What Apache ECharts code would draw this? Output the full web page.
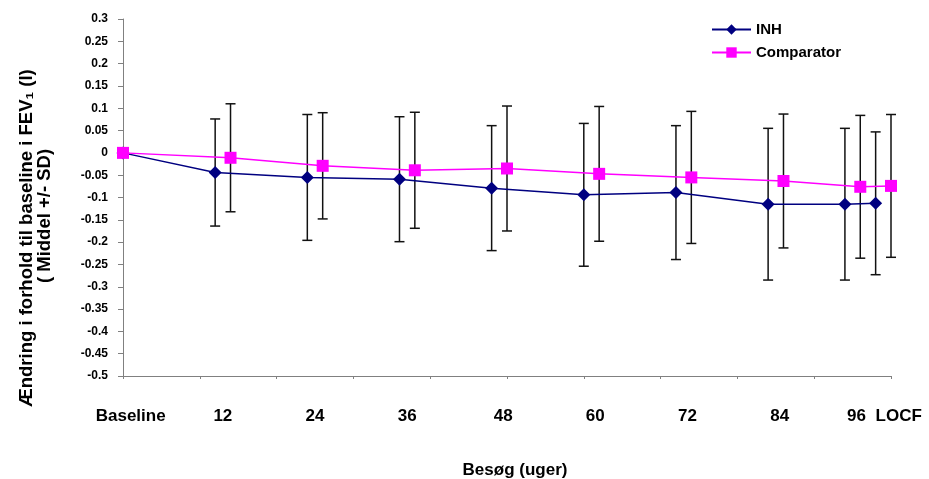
<!DOCTYPE html>
<html>
<head>
<meta charset="utf-8">
<script src="https://cdn.jsdelivr.net/npm/echarts@6/dist/echarts.min.js"></script>
<style>html,body{margin:0;padding:0;background:#fff;}#c{width:929px;height:479px;}</style>
</head>
<body>
<div id="c"></div>
<script>
const categories = ['Baseline', '12', '24', '36', '48', '60', '72', '84', '96', 'LOCF'];
const labelX = [0.1, 1.3, 2.5, 3.7, 4.95, 6.15, 7.35, 8.55, 9.55, 10.1];
const inhX = [0, 1.2, 2.4, 3.6, 4.8, 6.0, 7.2, 8.4, 9.4, 9.8];
const compX = [0, 1.4, 2.6, 3.8, 5.0, 6.2, 7.4, 8.6, 9.6, 10.0];
const inhMean = [0, -0.044, -0.055, -0.059, -0.079, -0.094, -0.089, -0.115, -0.115, -0.113];
const inhSD = [0, 0.120, 0.141, 0.140, 0.140, 0.160, 0.150, 0.170, 0.170, 0.160];
const compMean = [0, -0.011, -0.029, -0.039, -0.035, -0.047, -0.055, -0.063, -0.076, -0.074];
const compSD = [0, 0.121, 0.119, 0.130, 0.140, 0.151, 0.148, 0.150, 0.160, 0.160];
const seriesNames = ['INH', 'Comparator'];
const yTitle1 = 'Ændring i forhold til baseline i FEV₁ (l)';
const yTitle2 = '( Middel +/- SD)';
const xTitle = 'Besøg (uger)';

const FONT = '"Liberation Sans", Arial, sans-serif';
const chart = echarts.init(document.getElementById('c'), null, {renderer: 'canvas'});

function errRender(params, api) {
  const x = api.value(0), m = api.value(1), sd = api.value(2);
  if (!sd) return null;
  const top = api.coord([x, m + sd]);
  const bot = api.coord([x, m - sd]);
  const hw = 5;
  const st = {stroke: '#111', lineWidth: 1.5};
  return {
    type: 'group',
    children: [
      {type: 'line', shape: {x1: top[0], y1: top[1], x2: bot[0], y2: bot[1]}, style: st},
      {type: 'line', shape: {x1: top[0] - hw, y1: top[1], x2: top[0] + hw, y2: top[1]}, style: st},
      {type: 'line', shape: {x1: bot[0] - hw, y1: bot[1], x2: bot[0] + hw, y2: bot[1]}, style: st}
    ]
  };
}

function catLabelRender(params, api) {
  const idx = params.dataIndex;
  const p = api.coord([api.value(0), -0.5]);
  return {
    type: 'text',
    x: p[0], y: p[1] + 32,
    style: {text: categories[idx], font: 'bold 17px ' + FONT, fill: '#000', align: 'center', verticalAlign: 'top'}
  };
}

const option = {
  animation: false,
  backgroundColor: '#fff',
  grid: {left: 123, right: 38, top: 19, bottom: 103},
  legend: {
    data: seriesNames,
    orient: 'vertical',
    left: 706, top: 17,
    itemWidth: 39, itemHeight: 13, itemGap: 8,
    textStyle: {fontFamily: FONT, fontWeight: 'bold', fontSize: 15, color: '#000'}
  },
  xAxis: {
    type: 'value', min: 0, max: 10, interval: 1,
    axisLine: {onZero: false, lineStyle: {color: '#808080', width: 1}},
    axisTick: {show: true, length: 3, lineStyle: {color: '#808080'}},
    axisLabel: {show: false},
    splitLine: {show: false}
  },
  yAxis: {
    type: 'value', min: -0.5, max: 0.3, interval: 0.05,
    axisLine: {show: true, lineStyle: {color: '#808080', width: 1}},
    axisTick: {show: true, length: 5, lineStyle: {color: '#808080'}},
    axisLabel: {
      margin: 15, color: '#000', fontFamily: FONT, fontWeight: 'bold', fontSize: 12,
      formatter: v => { const s = Math.round(v * 100) / 100; return s === 0 ? '0' : String(s); }
    },
    splitLine: {show: false}
  },
  graphic: [
    {type: 'text', x: 27, y: 238, rotation: Math.PI / 2,
     style: {text: yTitle1, font: 'bold 18.5px ' + FONT, fill: '#000', align: 'center', verticalAlign: 'middle'}},
    {type: 'text', x: 45, y: 216, rotation: Math.PI / 2,
     style: {text: yTitle2, font: 'bold 18.5px ' + FONT, fill: '#000', align: 'center', verticalAlign: 'middle'}},
    {type: 'text', x: 515, y: 470,
     style: {text: xTitle, font: 'bold 17px ' + FONT, fill: '#000', align: 'center', verticalAlign: 'middle'}}
  ],
  series: [
    {
      name: 'INH-err', type: 'custom', z: 1, silent: true,
      data: inhX.map((x, i) => [x, inhMean[i], inhSD[i]]),
      encode: {x: 0, y: 1},
      renderItem: errRender
    },
    {
      name: 'Comparator-err', type: 'custom', z: 1, silent: true,
      data: compX.map((x, i) => [x, compMean[i], compSD[i]]),
      encode: {x: 0, y: 1},
      renderItem: errRender
    },
    {
      name: seriesNames[0], type: 'line', z: 3,
      data: inhX.map((x, i) => [x, inhMean[i]]),
      symbol: 'diamond', symbolSize: 13,
      lineStyle: {color: '#000080', width: 1.5},
      itemStyle: {color: '#000080'}
    },
    {
      name: seriesNames[1], type: 'line', z: 4,
      data: compX.map((x, i) => [x, compMean[i]]),
      symbol: 'rect', symbolSize: 12,
      lineStyle: {color: '#FF00FF', width: 1.5},
      itemStyle: {color: '#FF00FF'}
    },
    {
      name: 'cat-labels', type: 'custom', silent: true, clip: false,
      data: labelX.map(x => [x, -0.5]),
      encode: {x: 0, y: 1},
      renderItem: catLabelRender
    }
  ]
};
chart.setOption(option);
</script>
</body>
</html>
